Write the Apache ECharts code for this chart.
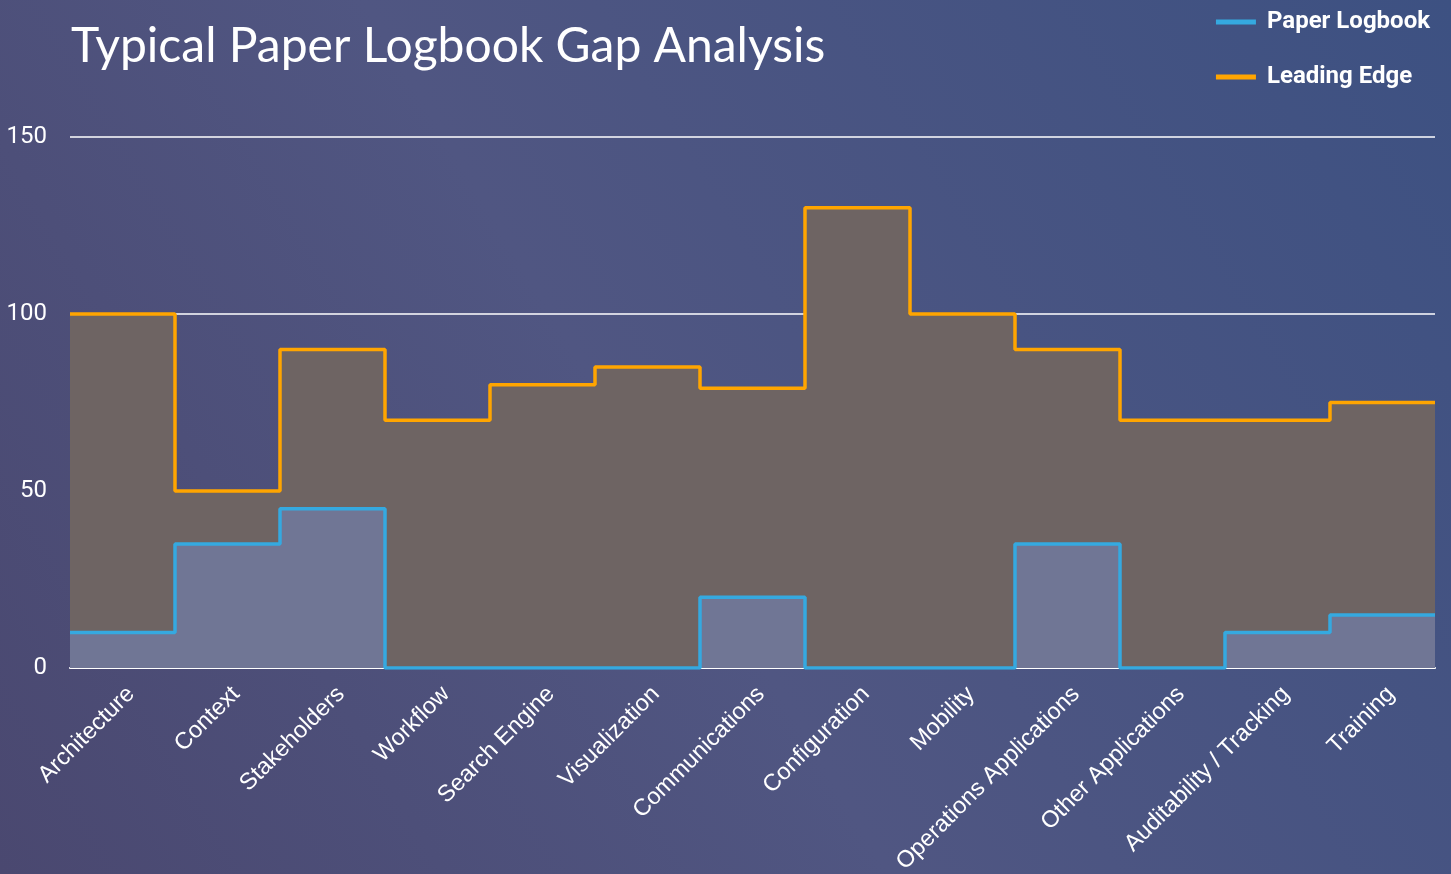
<!DOCTYPE html>
<html>
<head>
<meta charset="utf-8">
<script src="https://cdn.jsdelivr.net/npm/echarts@6/dist/echarts.min.js"></script>
<style>
  html, body { margin: 0; padding: 0; }
  #chart { width: 1451px; height: 874px; }
</style>
</head>
<body>
<div id="chart"></div>
<script>
// categories and values
var categories = ['Architecture', 'Context', 'Stakeholders', 'Workflow', 'Search Engine', 'Visualization',
    'Communications', 'Configuration', 'Mobility', 'Operations Applications', 'Other Applications',
    'Auditability / Tracking', 'Training'];
var paperLogbook = [10, 35, 45, 0, 0, 0, 20, 0, 0, 35, 0, 10, 15];
var leadingEdge = [100, 50, 90, 70, 80, 85, 79, 130, 100, 90, 70, 70, 75];
var yTicks = [0, 50, 100, 150];

// step points: each category covers [i, i+1] on the hidden value axis
function stepData(values) {
    var pts = values.map(function (v, i) { return [i, v]; });
    pts.push([values.length, values[values.length - 1]]);
    return pts;
}

var chart = echarts.init(document.getElementById('chart'));
chart.setOption({
    backgroundColor: {
        type: 'linear', x: 0, y: 1, x2: 1, y2: 0,
        colorStops: [
            { offset: 0, color: '#4a4870' },
            { offset: 0.45, color: '#505682' },
            { offset: 1, color: '#3d5182' }
        ]
    },
    title: {
        text: 'Typical Paper Logbook Gap Analysis',
        left: 66,
        top: 18,
        textStyle: { color: '#ffffff', fontSize: 48, fontWeight: 'normal', fontFamily: 'Lato' }
    },
    legend: {
        data: ['Paper Logbook', 'Leading Edge'],
        orient: 'vertical',
        right: 16,
        top: 5,
        itemGap: 31,
        itemWidth: 40,
        itemHeight: 5,
        icon: 'rect',
        textStyle: { color: '#ffffff', fontSize: 24, fontWeight: 'bold', fontFamily: 'Roboto', padding: [0, 0, 0, 6] }
    },
    grid: { left: 70, right: 16, top: 137, bottom: 206, outerBoundsMode: 'none' },
    xAxis: [
        {
            type: 'category',
            data: categories,
            boundaryGap: true,
            axisLine: { lineStyle: { color: '#ffffff', width: 2 } },
            axisTick: { show: false },
            axisLabel: {
                color: '#ffffff', fontSize: 23.5, fontFamily: 'Liberation Sans',
                rotate: 45, margin: 14, interval: 0, verticalAlign: 'top'
            },
            splitLine: { show: false }
        },
        {
            type: 'value',
            min: 0,
            max: categories.length,
            show: false,
            position: 'bottom'
        }
    ],
    yAxis: {
        type: 'value',
        min: yTicks[0],
        max: yTicks[yTicks.length - 1],
        interval: 50,
        axisLine: { show: false },
        axisTick: { show: false },
        axisLabel: { color: '#ffffff', fontSize: 24, fontFamily: 'Roboto', margin: 23 },
        splitLine: { lineStyle: { color: '#ffffff', width: 1.5 } }
    },
    series: [
        {
            name: 'Leading Edge',
            type: 'line',
            xAxisIndex: 1,
            step: 'end',
            data: stepData(leadingEdge),
            showSymbol: false,
            lineStyle: { color: '#ffa500', width: 3.5 },
            itemStyle: { color: '#ffa500' },
            areaStyle: { color: '#6e6463', opacity: 1 },
            z: 2
        },
        {
            name: 'Paper Logbook',
            type: 'line',
            xAxisIndex: 1,
            step: 'end',
            data: stepData(paperLogbook),
            showSymbol: false,
            lineStyle: { color: '#35a9e0', width: 3.5 },
            itemStyle: { color: '#35a9e0' },
            areaStyle: { color: '#707695', opacity: 1 },
            z: 3
        }
    ]
});
</script>
</body>
</html>
